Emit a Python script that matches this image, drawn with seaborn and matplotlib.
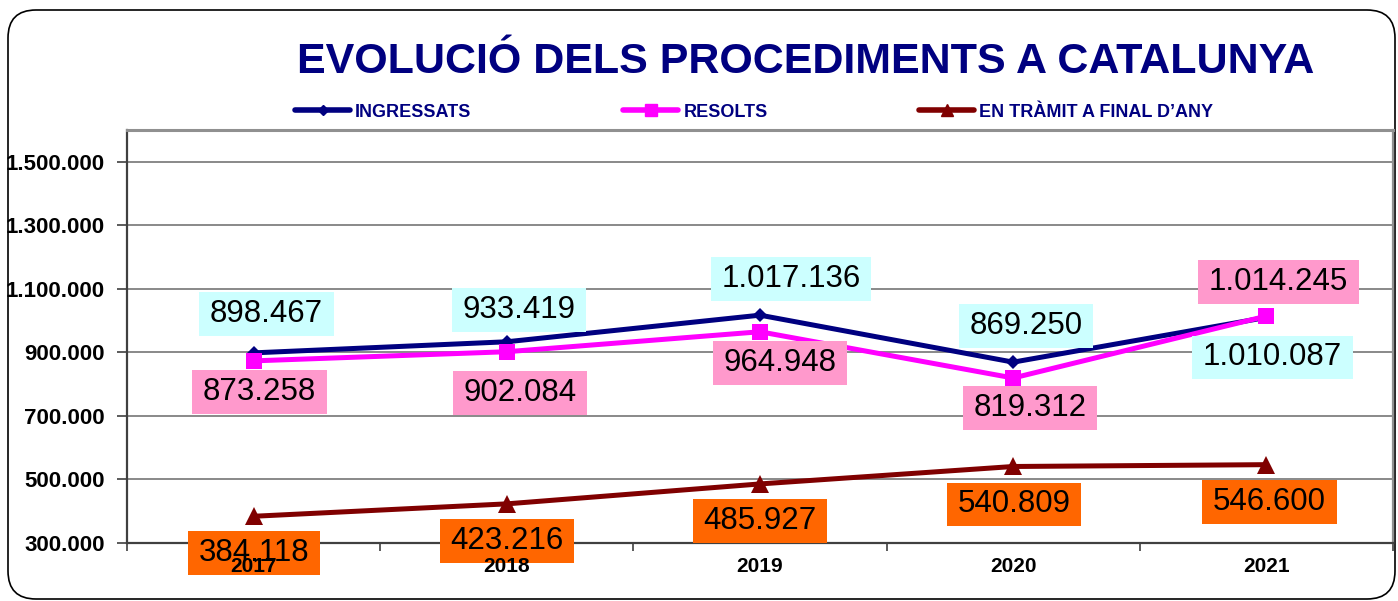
import matplotlib
matplotlib.use("Agg")
import numpy as np
import pandas as pd
import matplotlib.pyplot as plt
import matplotlib.transforms as mtransforms
import seaborn as sns
from matplotlib.lines import Line2D
from matplotlib.patches import FancyBboxPatch
from matplotlib.ticker import FixedLocator, FuncFormatter

# ---------------- data ----------------
years = [2017, 2018, 2019, 2020, 2021]
ingressats = [898467, 933419, 1017136, 869250, 1010087]
resolts = [873258, 902084, 964948, 819312, 1014245]
en_tramit = [384118, 423216, 485927, 540809, 546600]
series_names = ["INGRESSATS", "RESOLTS", "EN TRÀMIT A FINAL D’ANY"]
y_ticks = [300000, 500000, 700000, 900000, 1100000, 1300000, 1500000]
title = "EVOLUCIÓ DELS PROCEDIMENTS A CATALUNYA"

# ---------------- styles ----------------
line_colors = ["#000080", "#FF00FF", "#800000"]
markers = ["D", "s", "^"]
marker_sizes = [7, 12, 13]
legend_marker_sizes = [5, 8, 8]
box_colors = ["#CCFFFF", "#FF99CC", "#FF6600"]
# label offsets in pixels (dx, dy up)
label_offsets = [
    [(13, 39), (12, 32), (31, 36), (13, 36), (6, -40)],
    [(6, -31.5), (13, -41), (20, -31), (17, -30), (12, 34)],
    [(0, -37), (0, -37.5), (0, -37), (1, -38), (3, -37)],
]

sns.set_theme(style="white")
plt.rcParams["font.family"] = ["Liberation Sans", "DejaVu Sans"]

def fmt(v):
    return f"{int(v):,}".replace(",", ".")

df = pd.DataFrame({
    "year": years * 3,
    "value": ingressats + resolts + en_tramit,
    "series": [series_names[0]] * 5 + [series_names[1]] * 5 + [series_names[2]] * 5,
})

W, H = 1398, 601
fig = plt.figure(figsize=(W / 100, H / 100), dpi=100)
fig.patch.set_facecolor("white")

# rounded outer frame (pixel coordinates)
frame = FancyBboxPatch((8, 2), 1387, 589,
                       boxstyle="round,pad=0,rounding_size=28",
                       transform=mtransforms.IdentityTransform(),
                       fill=False, ec="black", lw=1.2, zorder=0)
fig.add_artist(frame)

ax_left, ax_right, ax_top, ax_bottom = 127, 1393, 130, 543
ax = fig.add_axes([ax_left / W, 1 - ax_bottom / H,
                   (ax_right - ax_left) / W, (ax_bottom - ax_top) / H])
ax.set_facecolor("white")

for i, name in enumerate(series_names):
    sub = df[df["series"] == name]
    sns.lineplot(data=sub, x="year", y="value", ax=ax, color=line_colors[i],
                 marker=markers[i], markersize=marker_sizes[i],
                 markeredgecolor=line_colors[i], markeredgewidth=0,
                 linewidth=3.6, sort=False, legend=False, zorder=3)

ax.set_xlim(2016.5, 2021.5)
ax.set_ylim(300000, 1600000)
ax.set_xlabel("")
ax.set_ylabel("")

ax.set_yticks(y_ticks)
ax.yaxis.set_major_formatter(FuncFormatter(lambda v, p: fmt(v)))
for lab in ax.get_yticklabels():
    lab.set_fontweight("bold")
ax.tick_params(axis="y", which="major", left=True, length=7, width=1.2,
               color="#404040", pad=9, labelsize=16, labelcolor="black",
               direction="out")

ax.set_xticks(years)
ax.set_xticklabels([])
ax.tick_params(axis="x", which="major", length=0)
ax.xaxis.set_minor_locator(FixedLocator([y - 0.5 for y in years] + [years[-1] + 0.5]))
ax.tick_params(axis="x", which="minor", bottom=True, length=6, width=1.2,
               color="#404040", direction="out")

ax.grid(axis="y", color="#808080", lw=1.3)
ax.grid(axis="x", visible=False)
ax.set_axisbelow(True)

for side in ["left", "bottom"]:
    ax.spines[side].set_color("#404040")
    ax.spines[side].set_linewidth(1.6)
ax.spines["top"].set_color("#909090")
ax.spines["top"].set_linewidth(2.2)
ax.spines["right"].set_color("#909090")
ax.spines["right"].set_linewidth(1.6)

# data labels
all_values = [ingressats, resolts, en_tramit]
for i, vals in enumerate(all_values):
    for j, (yr, v) in enumerate(zip(years, vals)):
        dx, dy = label_offsets[i][j]
        ax.annotate(fmt(v), xy=(yr, v), xytext=(dx, dy), textcoords="offset pixels",
                    ha="center", va="center", fontsize=22.5, color="black",
                    bbox=dict(boxstyle="square,pad=0.34", fc=box_colors[i], ec="none",
                              mutation_aspect=0.65),
                    zorder=5, annotation_clip=False)

# year labels on top of boxes
for yr in years:
    ax.text(yr, -24 / (ax_bottom - ax_top), str(yr), transform=ax.get_xaxis_transform(),
            ha="center", va="center", fontsize=15, fontweight="bold", color="black",
            zorder=10)

# title
fig.text(806 / W, 1 - 73 / H, title, ha="center", va="baseline", fontsize=31,
         fontweight="bold", color="#000080")

# legend
handles = [Line2D([0], [0], color=line_colors[i], lw=4, marker=markers[i],
                  markersize=legend_marker_sizes[i], markeredgecolor=line_colors[i])
           for i in range(3)]
fig.legend(handles, series_names, loc="center left",
           bbox_to_anchor=(295 / W, 1 - 112 / H), ncol=3, frameon=False,
           borderpad=0, borderaxespad=0, handlelength=3.05, handletextpad=0.28,
           columnspacing=8.4, labelcolor="#000080",
           prop={"family": ["Liberation Sans", "DejaVu Sans"], "weight": "bold", "size": 13})

fig.savefig("out.png", dpi=100, facecolor="white")
